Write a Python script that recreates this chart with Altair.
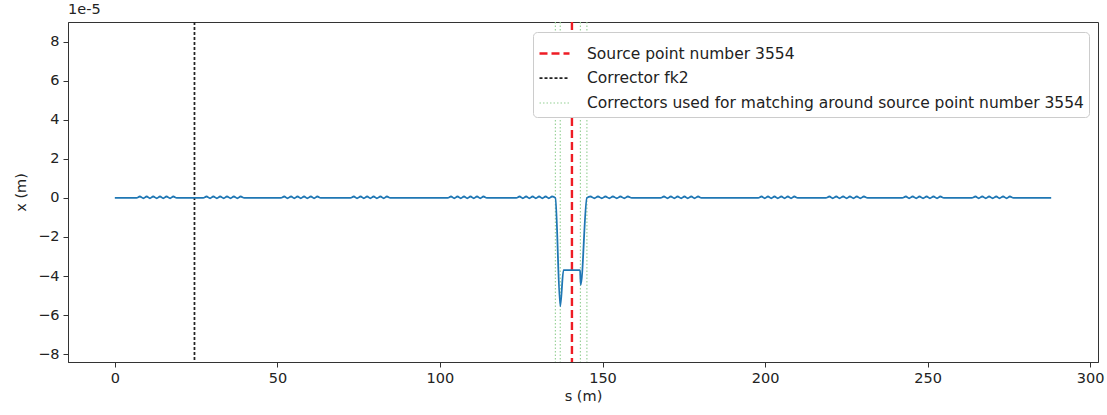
import altair as alt
import pandas as pd

# ---- orbit data: s (m) and x (in units of 1e-5 m) ----
s_vals = [
    0.0,
    6.7, 7.7, 8.8, 9.8, 10.8, 11.8, 12.9, 13.9, 14.9, 15.9, 17.0, 18.0, 19.0,
    27.2, 28.2, 29.3, 30.3, 31.4, 32.4, 33.5, 34.5, 35.6, 36.6, 37.7, 38.7, 39.8,
    51.1, 52.1, 53.1, 54.2, 55.2, 56.2, 57.2, 58.2, 59.2, 60.3, 61.3, 62.3, 63.3,
    72.5, 73.5, 74.5, 75.6, 76.6, 77.6, 78.6, 79.6, 80.6, 81.7, 82.7, 83.7, 84.7,
    102.4, 103.4, 104.4, 105.4, 106.4, 107.4, 108.4, 109.4, 110.4, 111.4, 112.4, 113.4, 114.4,
    123.5, 124.5, 125.5, 126.5, 127.5, 128.5, 129.5, 130.5, 131.5, 132.5, 133.5, 134.5, 135.5,
    137.0, 138.0, 143.1, 143.3,
    145.2, 146.3, 147.5, 148.6, 149.8, 150.9, 152.1, 153.2, 154.4, 155.5, 156.7, 157.8, 159.0,
    167.9, 168.9, 170.0, 171.0, 172.1, 173.1, 174.2, 175.2, 176.2, 177.3, 178.3, 179.4, 180.4,
    197.9, 198.9, 199.9, 200.9, 201.9, 202.9, 203.9, 205.0, 206.0, 207.0, 208.0, 209.0, 210.0,
    218.7, 219.8, 220.8, 221.9, 222.9, 224.0, 225.1, 226.1, 227.2, 228.2, 229.3, 230.4, 231.5,
    242.2, 243.3, 244.3, 245.4, 246.5, 247.5, 248.6, 249.7, 250.7, 251.8, 252.9, 253.9, 255.0,
    263.6, 264.7, 265.7, 266.8, 267.9, 268.9, 270.0, 271.1, 272.1, 273.2, 274.3, 275.3, 276.4,
    288.0,
]
x_vals = [
    0.0,
    0.0, 0.07, -0.02, 0.07, -0.02, 0.07, -0.02, 0.07, -0.02, 0.07, -0.02, 0.07, 0.0,
    0.0, 0.07, -0.02, 0.07, -0.02, 0.07, -0.02, 0.07, -0.02, 0.07, -0.02, 0.07, 0.0,
    0.0, 0.07, -0.02, 0.07, -0.02, 0.07, -0.02, 0.07, -0.02, 0.07, -0.02, 0.07, 0.0,
    0.0, 0.07, -0.02, 0.07, -0.02, 0.07, -0.02, 0.07, -0.02, 0.07, -0.02, 0.07, 0.0,
    0.0, 0.07, -0.02, 0.07, -0.02, 0.07, -0.02, 0.07, -0.02, 0.07, -0.02, 0.07, 0.0,
    0.0, 0.07, -0.02, 0.07, -0.02, 0.07, -0.02, 0.07, -0.02, 0.07, -0.02, 0.07, 0.0,
    -5.55, -3.7, -3.7, -4.45,
    0.0, 0.07, -0.02, 0.07, -0.02, 0.07, -0.02, 0.07, -0.02, 0.07, -0.02, 0.07, 0.0,
    0.0, 0.07, -0.02, 0.07, -0.02, 0.07, -0.02, 0.07, -0.02, 0.07, -0.02, 0.07, 0.0,
    0.0, 0.07, -0.02, 0.07, -0.02, 0.07, -0.02, 0.07, -0.02, 0.07, -0.02, 0.07, 0.0,
    0.0, 0.07, -0.02, 0.07, -0.02, 0.07, -0.02, 0.07, -0.02, 0.07, -0.02, 0.07, 0.0,
    0.0, 0.07, -0.02, 0.07, -0.02, 0.07, -0.02, 0.07, -0.02, 0.07, -0.02, 0.07, 0.0,
    0.0, 0.07, -0.02, 0.07, -0.02, 0.07, -0.02, 0.07, -0.02, 0.07, -0.02, 0.07, 0.0,
    0.0,
]

# ---- vertical marker lines ----
source_label = "Source point number 3554"
corrector_label = "Corrector fk2"
match_label = "Correctors used for matching around source point number 3554"
vline_s = [140.6, 24.5, 135.5, 137.0, 143.2, 145.2]
vline_label = [source_label, corrector_label, match_label, match_label, match_label, match_label]

legend_order = [source_label, corrector_label, match_label]
legend_colors = ["#ee1c25", "#222222", "#93cf93"]
legend_dashes = [[8, 4], [3, 2], [1.5, 2]]
legend_widths = [2.4, 1.1, 1.1]

x_ticks = [0, 50, 100, 150, 200, 250, 300]
y_ticks = [-8, -6, -4, -2, 0, 2, 4, 6, 8]

orbit = pd.DataFrame({"s": s_vals, "x": x_vals})
vlines = pd.DataFrame({"s": vline_s, "label": vline_label})

x_scale = alt.Scale(domain=[-14.4, 302.4], nice=False, zero=False)
y_scale = alt.Scale(domain=[-8.4, 9.0], nice=False, zero=False)

line = alt.Chart(orbit).mark_line(
    color="#1f77b4", strokeWidth=1.8, interpolate="monotone", clip=True
).encode(
    x=alt.X("s:Q", scale=x_scale,
            axis=alt.Axis(title="s (m)", values=x_ticks, grid=False)),
    y=alt.Y("x:Q", scale=y_scale,
            axis=alt.Axis(title="x (m)", values=y_ticks, grid=False)),
)

rules = alt.Chart(vlines).mark_rule().encode(
    x=alt.X("s:Q", scale=x_scale),
    color=alt.Color("label:N",
                    scale=alt.Scale(domain=legend_order, range=legend_colors),
                    legend=alt.Legend(title=None)),
    strokeDash=alt.StrokeDash("label:N",
                              scale=alt.Scale(domain=legend_order, range=legend_dashes),
                              legend=alt.Legend(title=None)),
    strokeWidth=alt.StrokeWidth("label:N",
                                scale=alt.Scale(domain=legend_order, range=legend_widths),
                                legend=alt.Legend(title=None)),
)

chart = alt.layer(rules, line).properties(
    width=1030,
    height=340,
    autosize=alt.AutoSizeParams(type="none"),
    padding={"left": 68, "top": 22, "right": 9, "bottom": 53},
    title=alt.TitleParams("1e-5", anchor="start", frame="group", fontSize=14.5,
                          fontWeight="normal", color="#222", offset=3,
                          font="DejaVu Sans"),
).configure(
    font="DejaVu Sans",
).configure_view(
    stroke="#333", strokeWidth=1,
).configure_axis(
    labelFont="DejaVu Sans", titleFont="DejaVu Sans",
    labelFontSize=14.5, titleFontSize=14.5, titleFontWeight="normal",
    labelColor="#222", titleColor="#222",
    tickColor="#333", domainColor="#333", tickSize=5,
    labelPadding=4,
).configure_axisX(
    titlePadding=5,
).configure_axisY(
    titlePadding=9,
).configure_legend(
    orient="none", legendX=465, legendY=10,
    fillColor="white", strokeColor="#cccccc", cornerRadius=4, padding=5,
    labelFont="DejaVu Sans", labelFontSize=15.5, labelColor="#222",
    labelLimit=0,
    symbolType="stroke", symbolSize=900, rowPadding=-7, labelOffset=16,
)

chart.save("out.html", embed_options={"renderer": "svg", "actions": False})
